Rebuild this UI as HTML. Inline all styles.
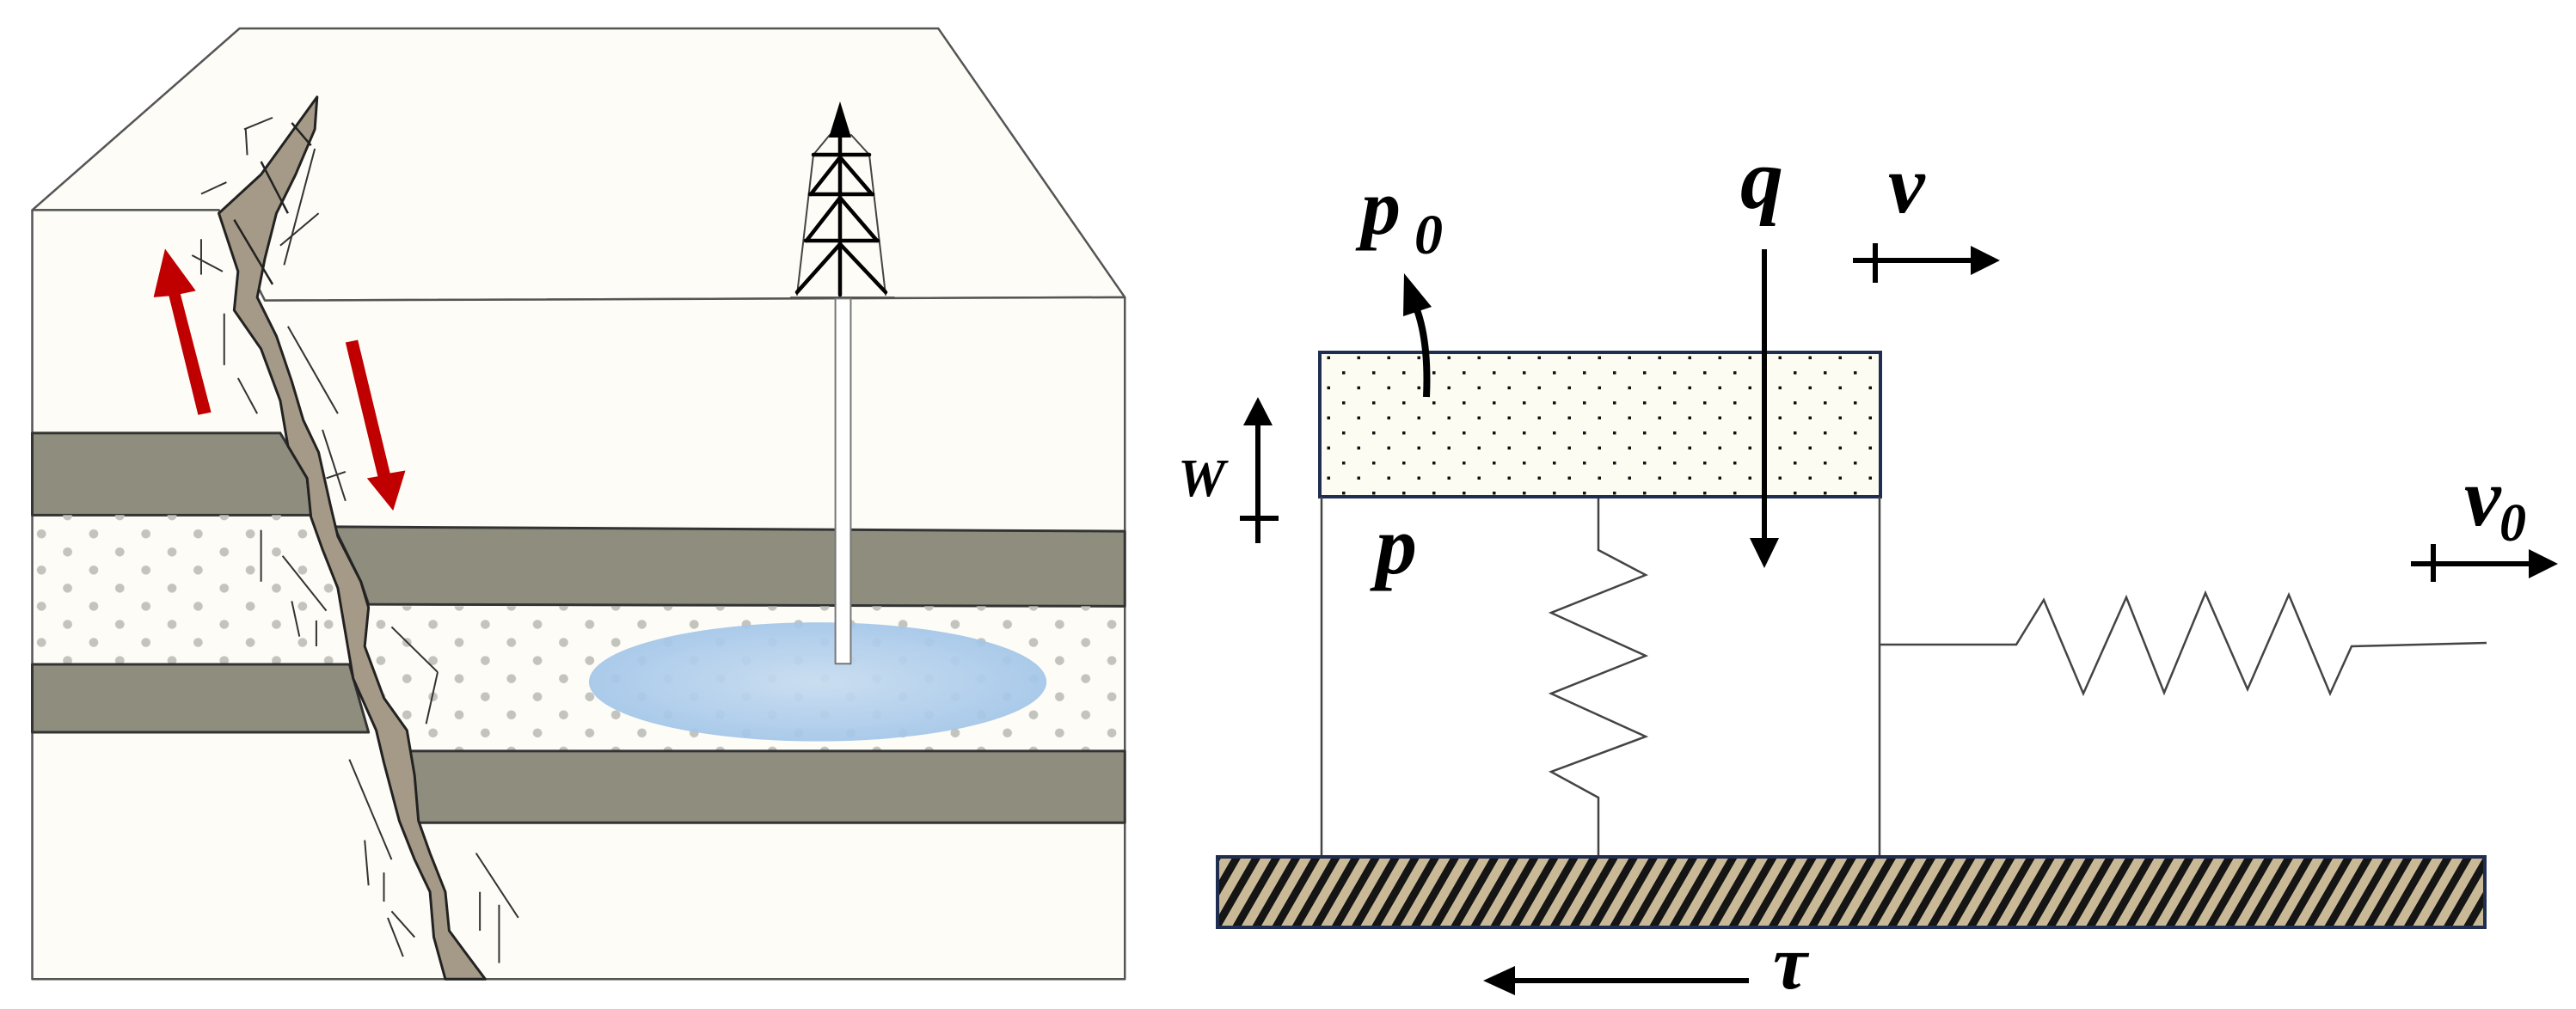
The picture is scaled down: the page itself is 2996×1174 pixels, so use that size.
<!DOCTYPE html>
<html><head><meta charset="utf-8"><style>
html,body{margin:0;padding:0;background:#fff;overflow:hidden;}
svg{display:block;}
text{font-family:"Liberation Serif",serif;font-weight:bold;font-style:italic;fill:#000;}
</style></head><body>
<svg width="2996" height="1174" viewBox="0 0 2996 1174" xmlns="http://www.w3.org/2000/svg">
<defs>
<pattern id="sand" x="0" y="0" width="68" height="56" patternUnits="userSpaceOnUse">
<ellipse cx="20" cy="14" rx="6" ry="7" fill="#c4c4bf"/><ellipse cx="54" cy="42" rx="6" ry="7" fill="#c4c4bf"/>
</pattern>
<pattern id="stip" x="1545" y="416" width="35" height="35" patternUnits="userSpaceOnUse">
<rect x="-1.5" y="-1.5" width="3.5" height="3.5" fill="#111"/><rect x="16" y="16" width="3.5" height="3.5" fill="#111"/>
<rect x="33.5" y="-1.5" width="3.5" height="3.5" fill="#111"/><rect x="-1.5" y="33.5" width="3.5" height="3.5" fill="#111"/><rect x="33.5" y="33.5" width="3.5" height="3.5" fill="#111"/>
</pattern>
<pattern id="hatch" width="20" height="20" patternUnits="userSpaceOnUse" patternTransform="rotate(30)">
<rect width="20" height="20" fill="#c9b996"/><rect width="9" height="20" fill="#151515"/>
</pattern>
<radialGradient id="pool" cx="0.5" cy="0.5" r="0.5">
<stop offset="0" stop-color="#c6dbf0"/><stop offset="1" stop-color="#a3c6e9"/>
</radialGradient>
</defs>

<!-- LEFT PANEL -->
<g transform="scale(0.893,0.752)" stroke-linejoin="round">
<polygon points="312,44 1222,44 1465,460 345,465 285,325 42,325" fill="#fdfcf6" stroke="#555" stroke-width="2.5" vector-effect="non-scaling-stroke"/>
<polygon points="42,325 285,325 345,465 1465,460 1465,1515 42,1515" fill="#fdfcf6" stroke="#555" stroke-width="2.5" vector-effect="non-scaling-stroke"/>
<polygon points="42,670 365,670 400,740 405,797 42,797" fill="#8f8e7e" stroke="#333" stroke-width="3" vector-effect="non-scaling-stroke"/>
<rect x="42" y="797" width="410" height="231" fill="url(#sand)"/>
<polygon points="42,1028 455,1028 480,1133 42,1133" fill="#8f8e7e" stroke="#333" stroke-width="3" vector-effect="non-scaling-stroke"/>
<polygon points="435,815 1465,822 1465,938 480,935 470,900" fill="#8f8e7e" stroke="#333" stroke-width="3" vector-effect="non-scaling-stroke"/>
<rect x="480" y="938" width="985" height="224" fill="url(#sand)"/>
<polygon points="530,1162 1465,1162 1465,1273 540,1273" fill="#8f8e7e" stroke="#333" stroke-width="3" vector-effect="non-scaling-stroke"/>
<ellipse cx="1065" cy="1055" rx="298" ry="92" fill="url(#pool)" opacity="0.92"/>
<rect x="1088" y="462" width="20" height="565" fill="#fff" stroke="#777" stroke-width="2" vector-effect="non-scaling-stroke"/>
<polygon fill="#a59a87" stroke="#222" stroke-width="3" vector-effect="non-scaling-stroke" points="413,150 410,200 385,270 360,330 345,400 335,460 360,520 380,590 395,650 415,700 430,780 440,830 470,900 480,940 475,1000 500,1080 530,1130 540,1200 545,1270 560,1320 580,1380 585,1440 610,1480 632,1515 580,1515 565,1450 560,1380 540,1330 520,1270 500,1180 490,1130 460,1050 450,980 440,910 420,850 405,800 400,740 375,690 365,620 340,540 305,480 310,420 285,330 340,270"/>
<g stroke="#222" stroke-width="2.5" vector-effect="non-scaling-stroke">
<line x1="305" y1="340" x2="355" y2="440" vector-effect="non-scaling-stroke"/><line x1="340" y1="250" x2="375" y2="330" vector-effect="non-scaling-stroke"/><line x1="380" y1="190" x2="405" y2="225" vector-effect="non-scaling-stroke"/>
</g>
<g stroke="#333" stroke-width="2">
<line x1="262" y1="300" x2="295" y2="282" vector-effect="non-scaling-stroke"/><line x1="318" y1="200" x2="355" y2="182" vector-effect="non-scaling-stroke"/><line x1="320" y1="200" x2="322" y2="240" vector-effect="non-scaling-stroke"/>
<line x1="365" y1="380" x2="415" y2="330" vector-effect="non-scaling-stroke"/><line x1="370" y1="410" x2="410" y2="230" vector-effect="non-scaling-stroke"/>
<line x1="262" y1="370" x2="262" y2="425" vector-effect="non-scaling-stroke"/><line x1="250" y1="395" x2="290" y2="420" vector-effect="non-scaling-stroke"/>
<line x1="292" y1="485" x2="292" y2="565" vector-effect="non-scaling-stroke"/><line x1="310" y1="585" x2="335" y2="640" vector-effect="non-scaling-stroke"/>
<line x1="375" y1="505" x2="440" y2="640" vector-effect="non-scaling-stroke"/><line x1="420" y1="665" x2="450" y2="775" vector-effect="non-scaling-stroke"/><line x1="425" y1="740" x2="450" y2="730" vector-effect="non-scaling-stroke"/>
<line x1="368" y1="860" x2="425" y2="945" vector-effect="non-scaling-stroke"/><line x1="340" y1="820" x2="340" y2="900" vector-effect="non-scaling-stroke"/><line x1="380" y1="930" x2="390" y2="985" vector-effect="non-scaling-stroke"/><line x1="412" y1="960" x2="412" y2="1000" vector-effect="non-scaling-stroke"/>
<line x1="510" y1="970" x2="570" y2="1040" vector-effect="non-scaling-stroke"/><line x1="570" y1="1040" x2="555" y2="1120" vector-effect="non-scaling-stroke"/>
<line x1="455" y1="1175" x2="510" y2="1330" vector-effect="non-scaling-stroke"/><line x1="475" y1="1300" x2="480" y2="1370" vector-effect="non-scaling-stroke"/>
<line x1="505" y1="1420" x2="525" y2="1480" vector-effect="non-scaling-stroke"/><line x1="510" y1="1410" x2="540" y2="1450" vector-effect="non-scaling-stroke"/><line x1="500" y1="1350" x2="500" y2="1395" vector-effect="non-scaling-stroke"/>
<line x1="620" y1="1320" x2="675" y2="1420" vector-effect="non-scaling-stroke"/><line x1="625" y1="1380" x2="625" y2="1440" vector-effect="non-scaling-stroke"/><line x1="650" y1="1400" x2="650" y2="1490" vector-effect="non-scaling-stroke"/>
</g>
<g fill="#c00000">
<polygon points="258,642 275,638 235,455 255,450 215,385 200,460 220,458"/>
<polygon points="450,530 466,526 508,732 528,728 512,790 478,740 492,737"/>
</g>
</g>
<!-- derrick (real coords) -->
<g stroke="#000" stroke-linecap="round">
<line x1="946" y1="180" x2="927" y2="343" stroke="#444" stroke-width="2"/><line x1="1011" y1="180" x2="1030" y2="343" stroke="#444" stroke-width="2"/>
<line x1="946" y1="180" x2="965" y2="157" stroke="#444" stroke-width="2"/><line x1="1011" y1="180" x2="990" y2="157" stroke="#444" stroke-width="2"/>
<g stroke-width="4.5">
<line x1="946" y1="180" x2="1011" y2="180"/><line x1="942" y1="226" x2="1015" y2="226"/><line x1="937" y1="280" x2="1021" y2="280"/>
<line x1="977" y1="150" x2="977" y2="343"/>
<polyline points="943,226 977,183 1014,226" fill="none"/>
<polyline points="938,280 977,230 1020,280" fill="none"/>
<polyline points="927,340 977,284 1030,340" fill="none"/>
</g>
<line x1="920" y1="346" x2="1040" y2="346" stroke="#555" stroke-width="2"/>
</g>
<polygon points="977,118 964,160 990,160" fill="#000"/>

<!-- RIGHT PANEL (real coords) -->
<rect x="1535" y="410" width="652" height="168" fill="#fdfcf3"/>
<rect x="1535" y="410" width="652" height="168" fill="url(#stip)"/>
<rect x="1535" y="410" width="652" height="168" fill="none" stroke="#1f2d50" stroke-width="4"/>
<g stroke="#444" stroke-width="2.5" fill="none">
<line x1="1537" y1="578" x2="1537" y2="997"/><line x1="2186" y1="578" x2="2186" y2="997"/>
<polyline points="1859,580 1859,640 1914,669 1804,713 1914,763 1804,807 1914,857 1804,898 1859,928 1859,997"/>
<polyline points="2186,750 2345,750 2377,698 2423,807 2473,695 2517,806 2565,690 2614,802 2662,692 2710,807 2735,752 2892,748"/>
</g>
<rect x="1416" y="997" width="1474" height="82" fill="url(#hatch)" stroke="#1f2d50" stroke-width="4"/>
<g stroke="#000" stroke-width="6" fill="none">
<line x1="2034" y1="1141" x2="1760" y2="1141"/>
<line x1="2052" y1="290" x2="2052" y2="630"/>
<line x1="2155" y1="303" x2="2295" y2="303"/><line x1="2181" y1="283" x2="2181" y2="329"/>
<line x1="2804" y1="656" x2="2945" y2="656"/><line x1="2830" y1="633" x2="2830" y2="677"/>
<line x1="1463" y1="632" x2="1463" y2="492"/><line x1="1442" y1="603" x2="1487" y2="603"/>
<path d="M1659,462 Q1662,395 1646,355" stroke-width="8"/>
</g>
<g fill="#000">
<polygon points="1725,1141 1762,1124 1762,1158"/>
<polygon points="2052,661 2035,626 2069,626"/>
<polygon points="2326,303 2292,286 2292,320"/>
<polygon points="2975,656 2941,639 2941,673"/>
<polygon points="1463,462 1446,495 1480,495"/>
<polygon points="1633,318 1632,368 1665,357"/>
</g>
<text x="2024" y="242" font-size="100">q</text>
<text x="2196" y="247" font-size="96">v</text>
<text x="1583" y="272" font-size="92">p</text><text x="1645" y="295" font-size="66">0</text>
<text x="1600" y="667" font-size="96">p</text>
<text x="2866" y="611" font-size="96">v</text><text x="2907" y="629" font-size="62">0</text>
<text x="2062" y="1150" font-size="90">τ</text>
<text x="1370" y="577" font-size="62">W</text>
</svg>
</body></html>
